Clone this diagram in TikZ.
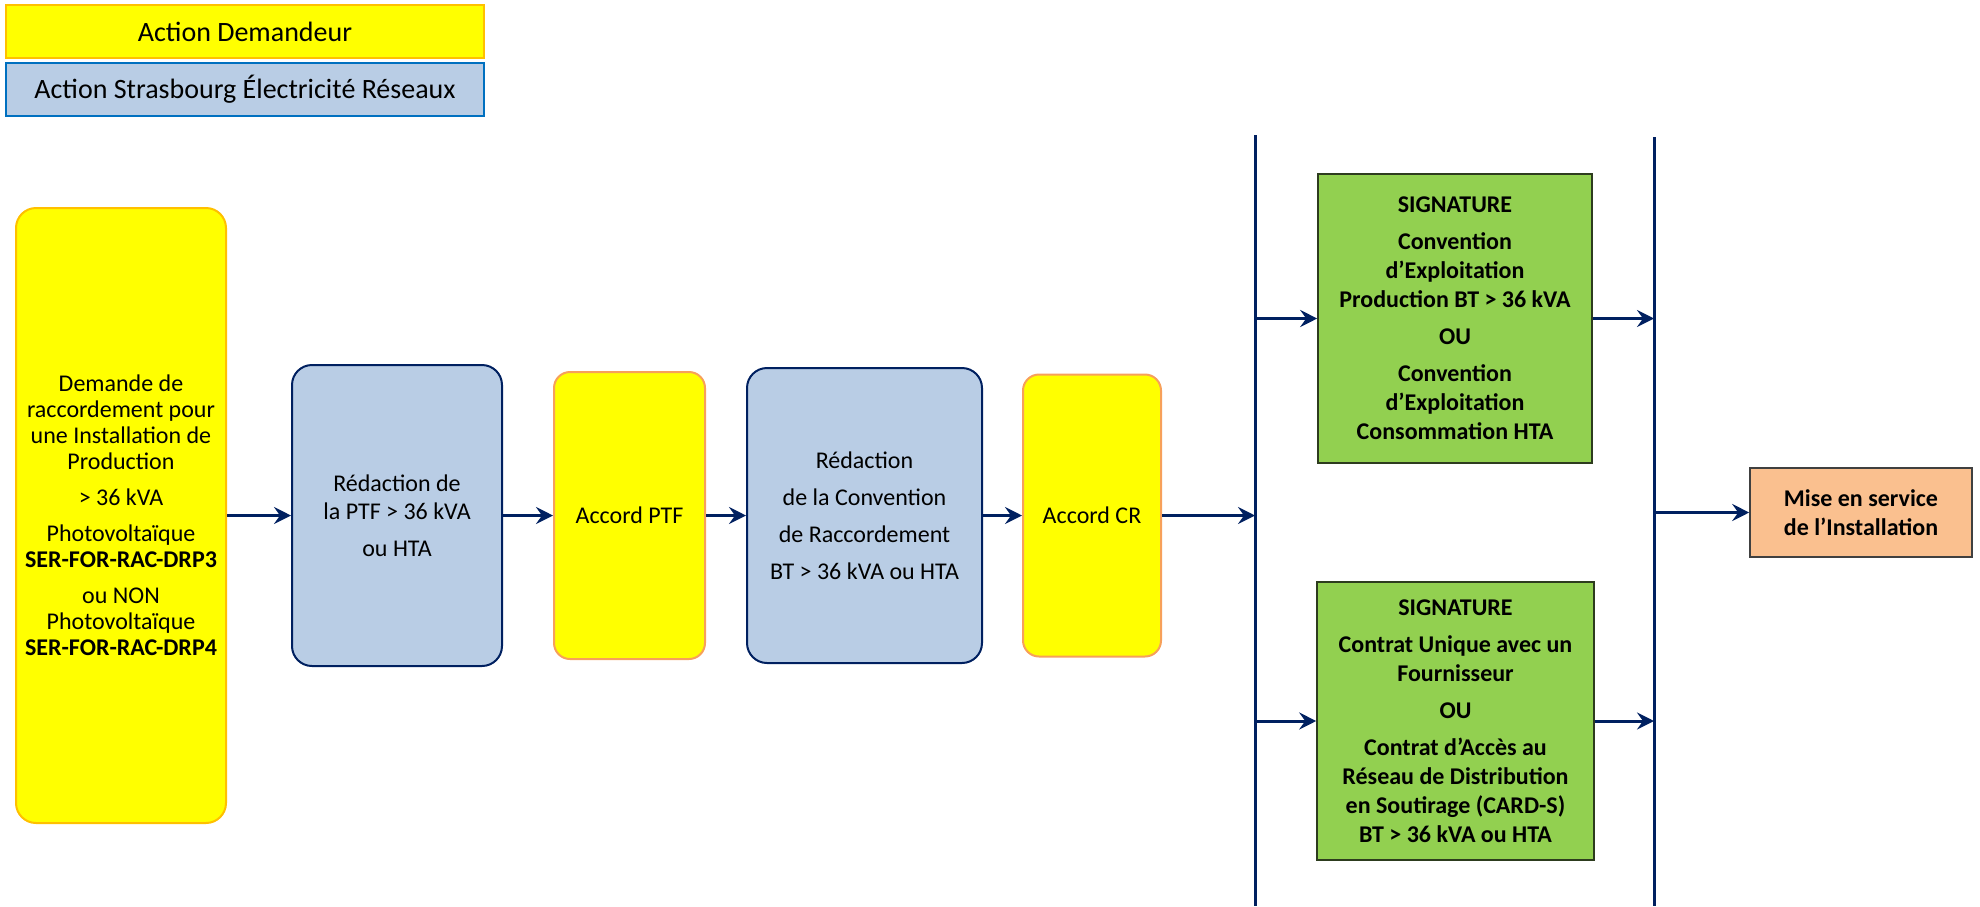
\documentclass[tikz,border=0pt]{standalone}
\usepackage{fontspec}
\setmainfont{Carlito}
\usetikzlibrary{arrows.meta, positioning}
\definecolor{navy}{RGB}{0, 32, 96}
\definecolor{jaune}{RGB}{255, 255, 0}
\definecolor{goldline}{RGB}{255, 192, 0}
\definecolor{saumon}{RGB}{247, 160, 90}
\definecolor{bleuclair}{RGB}{185, 205, 229}
\definecolor{bleuborder}{RGB}{0, 112, 192}
\definecolor{vert}{RGB}{146, 208, 80}
\definecolor{vertfonce}{RGB}{45, 60, 30}
\definecolor{peche}{RGB}{250, 192, 143}

\begin{document}
\begin{tikzpicture}[
            x=0.5pt, y=-0.5pt,
            txt/.style={align=center, inner sep=2pt, font=\fontsize{12}{14}\selectfont},
            demandeur/.style={txt, draw=saumon, fill=jaune, line width=1pt, rounded corners=8pt},
            reseau/.style={txt, draw=navy, fill=bleuclair, line width=1pt, rounded corners=10pt},
            signature/.style={txt, draw=vertfonce, fill=vert, line width=0.8pt, font=\fontsize{12}{14.5}\selectfont\bfseries},
            legende/.style={minimum width=239pt, minimum height=26.5pt, inner sep=0pt, line width=1pt, font=\fontsize{14}{16}\selectfont},
            arrow/.style={-{Stealth[length=8.5pt, width=8.5pt, inset=3pt]}, line width=1.5pt, navy},
            barre/.style={line width=1.5pt, navy}
        ]
            \useasboundingbox (0,0) rectangle (1980,906);

            % legende
            \node[legende, draw=goldline, fill=jaune] (legdem) at (245,31.5) {Action Demandeur};
            \node[legende, draw=bleuborder, fill=bleuclair] (legser) at (245,89.5) {Action Strasbourg Électricité Réseaux};

            % chaine principale
            \node[demandeur, draw=goldline, rounded corners=10pt, minimum width=105pt, minimum height=307.5pt,
                  font=\fontsize{12}{13}\selectfont] (demande) at (121,515.5)
                {Demande de\\ raccordement pour\\ une Installation de\\ Production\\[5pt] > 36 kVA\\[5pt]
                 Photovoltaïque\\ \textbf{SER-FOR-RAC-DRP3}\\[5pt] ou NON\\ Photovoltaïque\\ \textbf{SER-FOR-RAC-DRP4}};
            \node[reseau, minimum width=105pt, minimum height=150.5pt, right=32pt of demande] (redacptf)
                {Rédaction de\\ la PTF > 36 kVA\\[4.5pt] ou HTA};
            \node[demandeur, minimum width=75.5pt, minimum height=143.5pt, right=25pt of redacptf] (accordptf) {Accord PTF};
            \node[reseau, minimum width=117.5pt, minimum height=147.5pt, right=20pt of accordptf] (redaccr)
                {Rédaction\\[4.5pt] de la Convention\\[4.5pt] de Raccordement\\[4.5pt] BT > 36 kVA ou HTA};
            \node[demandeur, minimum width=69pt, minimum height=141pt, right=19.5pt of redaccr] (accordcr) {Accord CR};

            % barres
            \coordinate (barre1haut) at (1255,135);
            \coordinate (barre1bas) at (1255,906);
            \coordinate (barre2haut) at (1654,137);
            \coordinate (barre2bas) at (1654,906);
            \draw[barre] (barre1haut) -- (barre1bas);
            \draw[barre] (barre2haut) -- (barre2bas);

            % signatures
            \node[signature, minimum width=137pt, minimum height=144.5pt] (signexpl) at (1455,318.5)
                {SIGNATURE\\[4pt] Convention\\ d’Exploitation\\ Production BT > 36 kVA\\[4pt] OU\\[4pt]
                 Convention\\ d’Exploitation\\ Consommation HTA};
            \node[signature, minimum width=138.5pt, minimum height=139pt] (signcontrat) at (1455.5,721)
                {SIGNATURE\\[4pt] Contrat Unique avec un\\ Fournisseur\\[4pt] OU\\[4pt]
                 Contrat d’Accès au\\ Réseau de Distribution\\ en Soutirage (CARD-S)\\ BT > 36 kVA ou HTA};
            \node[txt, draw=black!75, fill=peche, line width=0.8pt, minimum width=111pt, minimum height=44.5pt,
                  font=\fontsize{12}{14.5}\selectfont\bfseries] (miseservice) at (1861,512.5)
                {Mise en service\\ de l’Installation};

            \draw[arrow] (demande) -- (redacptf);
            \draw[arrow] (redacptf) -- (accordptf);
            \draw[arrow] (accordptf) -- (redaccr);
            \draw[arrow] (redaccr) -- (accordcr);
            \draw[arrow] (accordcr) -- (accordcr -| barre1haut);
            \draw[arrow] (barre1haut |- signexpl) -- (signexpl);
            \draw[arrow] (barre1haut |- signcontrat) -- (signcontrat);
            \draw[arrow] (signexpl) -- (signexpl -| barre2haut);
            \draw[arrow] (signcontrat) -- (signcontrat -| barre2haut);
            \draw[arrow] (barre2haut |- miseservice) -- (miseservice);
        \end{tikzpicture}
\end{document}
